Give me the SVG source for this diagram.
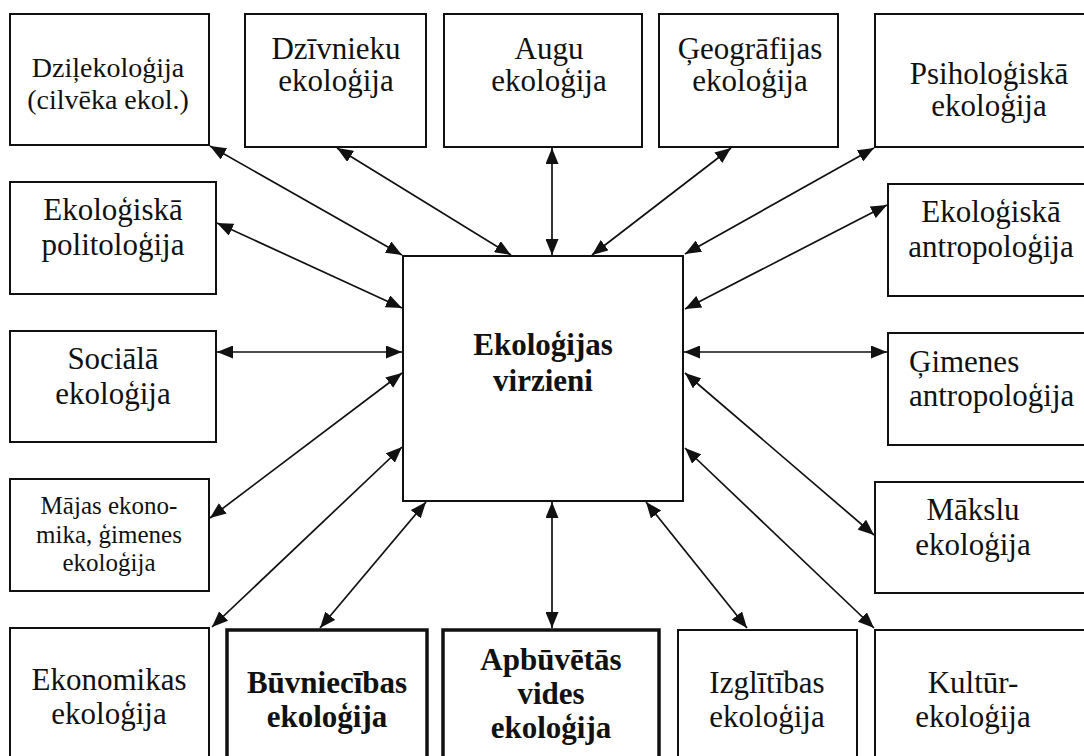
<svg xmlns="http://www.w3.org/2000/svg" width="1084" height="756" viewBox="0 0 1084 756">
<style>
.box{fill:#fff;stroke:#111;stroke-width:2}
.bold-box{fill:#fff;stroke:#111;stroke-width:3.5}
.t{font-family:"Liberation Serif","Times New Roman",serif;font-size:31px;fill:#111;text-anchor:middle}
.b{font-weight:bold}
.s28{font-size:28px}
.s25{font-size:25px}
.l{text-anchor:start}
.c{stroke:#111;stroke-width:1.7;fill:none;marker-start:url(#ah);marker-end:url(#ah)}
</style>
<defs>
<marker id="ah" markerUnits="userSpaceOnUse" markerWidth="16" markerHeight="13" refX="16" refY="6.5" orient="auto-start-reverse" viewBox="0 0 16 13">
<path d="M0,0 L16,6.5 L0,13 z" fill="#111"/>
</marker>
</defs>
<rect width="1084" height="756" fill="#fff"/>
<g id="connectors">
<line class="c" x1="210" y1="146" x2="402" y2="255"/>
<line class="c" x1="337" y1="148" x2="511" y2="255"/>
<line class="c" x1="552" y1="148" x2="552" y2="255"/>
<line class="c" x1="731" y1="148" x2="592" y2="255"/>
<line class="c" x1="874" y1="148" x2="685" y2="254"/>
<line class="c" x1="217" y1="223" x2="402" y2="308"/>
<line class="c" x1="217" y1="352" x2="402" y2="352"/>
<line class="c" x1="210" y1="518" x2="402" y2="373"/>
<line class="c" x1="212" y1="627" x2="402" y2="447"/>
<line class="c" x1="320" y1="628" x2="426" y2="502"/>
<line class="c" x1="552" y1="628" x2="552" y2="502"/>
<line class="c" x1="747" y1="628" x2="646" y2="502"/>
<line class="c" x1="874" y1="628" x2="685" y2="448"/>
<line class="c" x1="874" y1="535" x2="685" y2="373"/>
<line class="c" x1="887" y1="352" x2="684" y2="352"/>
<line class="c" x1="887" y1="205" x2="685" y2="309"/>
</g>
<g id="center">
<rect class="box" x="403" y="256" width="280" height="245"/>
<text class="t b" x="543" y="355">Ekoloģijas</text>
<text class="t b" x="543" y="391">virzieni</text>
</g>
<g id="dzilekologija">
<rect class="box" x="10" y="14" width="199" height="131"/>
<text class="t s28" x="108" y="77">Dziļekoloģija</text>
<text class="t s28" x="108" y="109">(cilvēka ekol.)</text>
</g>
<g id="dzivnieku">
<rect class="box" x="245" y="14" width="181" height="133"/>
<text class="t" x="336" y="59">Dzīvnieku</text>
<text class="t" x="336" y="91">ekoloģija</text>
</g>
<g id="augu">
<rect class="box" x="444" y="14" width="198" height="133"/>
<text class="t" x="549" y="59">Augu</text>
<text class="t" x="549" y="91">ekoloģija</text>
</g>
<g id="geografijas">
<rect class="box" x="659" y="14" width="179" height="133"/>
<text class="t" x="750" y="59">Ģeogrāfijas</text>
<text class="t" x="750" y="91">ekoloģija</text>
</g>
<g id="psihologiska">
<rect class="box" x="875" y="14" width="220" height="133"/>
<text class="t" x="989" y="84">Psiholoģiskā</text>
<text class="t" x="989" y="116">ekoloģija</text>
</g>
<g id="politologija">
<rect class="box" x="10" y="182" width="206" height="112"/>
<text class="t" x="113" y="220">Ekoloģiskā</text>
<text class="t" x="113" y="255">politoloģija</text>
</g>
<g id="sociala">
<rect class="box" x="10" y="331" width="206" height="111"/>
<text class="t" x="113" y="369">Sociālā</text>
<text class="t" x="113" y="404">ekoloģija</text>
</g>
<g id="majas">
<rect class="box" x="10" y="479" width="199" height="112"/>
<text class="t s25" x="109" y="514">Mājas ekono-</text>
<text class="t s25" x="109" y="543">mika, ģimenes</text>
<text class="t s25" x="109" y="571">ekoloģija</text>
</g>
<g id="ekonomikas">
<rect class="box" x="10" y="628" width="199" height="140"/>
<text class="t" x="109" y="690">Ekonomikas</text>
<text class="t" x="109" y="724">ekoloģija</text>
</g>
<g id="buvniecibas">
<rect class="bold-box" x="227" y="630" width="200" height="140"/>
<text class="t b" x="327" y="693">Būvniecības</text>
<text class="t b" x="327" y="727">ekoloģija</text>
</g>
<g id="apbuvetas">
<rect class="bold-box" x="443" y="630" width="216" height="140"/>
<text class="t b" x="551" y="670">Apbūvētās</text>
<text class="t b" x="551" y="704">vides</text>
<text class="t b" x="551" y="738">ekoloģija</text>
</g>
<g id="izglitibas">
<rect class="box" x="678" y="630" width="179" height="140"/>
<text class="t" x="767" y="693">Izglītības</text>
<text class="t" x="767" y="727">ekoloģija</text>
</g>
<g id="kultur">
<rect class="box" x="875" y="630" width="220" height="140"/>
<text class="t" x="973" y="693">Kultūr-</text>
<text class="t" x="973" y="727">ekoloģija</text>
</g>
<g id="makslu">
<rect class="box" x="875" y="482" width="220" height="111"/>
<text class="t" x="973" y="520">Mākslu</text>
<text class="t" x="973" y="555">ekoloģija</text>
</g>
<g id="antropologija">
<rect class="box" x="888" y="184" width="210" height="112"/>
<text class="t" x="991" y="222">Ekoloģiskā</text>
<text class="t" x="991" y="257">antropoloģija</text>
</g>
<g id="gimenes">
<rect class="box" x="888" y="333" width="210" height="112"/>
<text class="t l" x="909" y="372">Ģimenes</text>
<text class="t l" x="909" y="406">antropoloģija</text>
</g>
</svg>
